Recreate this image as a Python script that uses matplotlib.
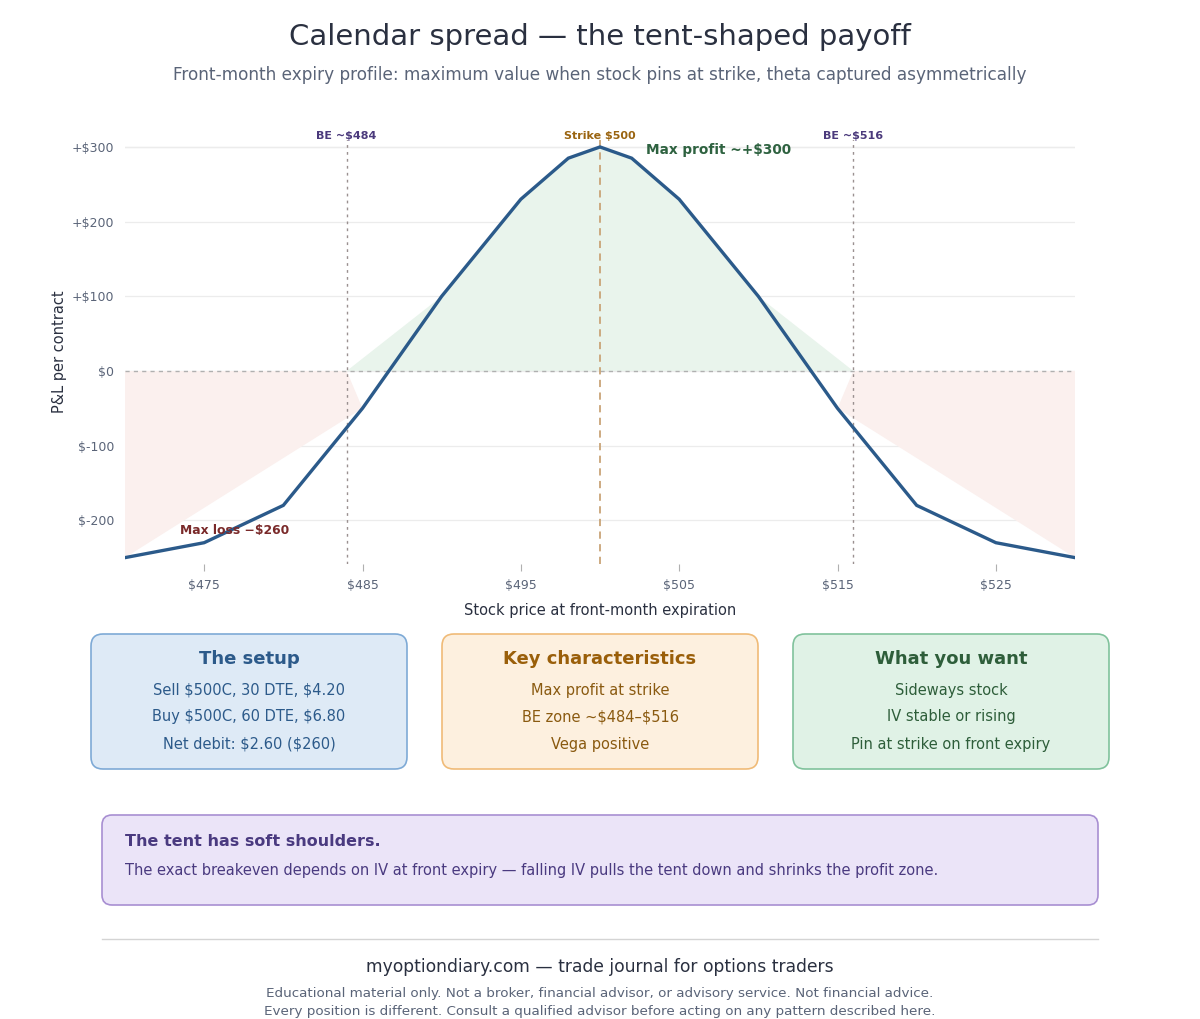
import matplotlib.pyplot as plt
from matplotlib.patches import FancyBboxPatch

# Front-month expiry P&L of the calendar spread
price = [470, 475, 480, 485, 490, 495, 498, 500, 502, 505, 510, 515, 520, 525, 530]
pnl = [-250, -230, -180, -50, 100, 230, 285, 300, 285, 230, 100, -50, -180, -230, -250]

strike = 500
be_low, be_high = 484, 516

# shaded zones (polygon outlines)
loss_left_x = [470, 484, 485, 470]
loss_left_y = [0, 0, -50, -250]
loss_right_x = [516, 530, 530, 515]
loss_right_y = [0, 0, -250, -50]

yticks = [-200, -100, 0, 100, 200, 300]
ytick_labels = ['$-200', '$-100', '$0', '+$100', '+$200', '+$300']
xticks = [475, 485, 495, 505, 515, 525]
xtick_labels = ['$475', '$485', '$495', '$505', '$515', '$525']

cards = [
    ('The setup', ['Sell $500C, 30 DTE, $4.20', 'Buy $500C, 60 DTE, $6.80', 'Net debit: $2.60 ($260)'],
     '#deeaf6', '#7eaad6', '#2c5a8a', '#2c5a8a'),
    ('Key characteristics', ['Max profit at strike', 'BE zone ~$484\u2013$516', 'Vega positive'],
     '#fdf0df', '#f0bb78', '#9a5f0a', '#8a5a10'),
    ('What you want', ['Sideways stock', 'IV stable or rising', 'Pin at strike on front expiry'],
     '#e0f2e6', '#80c29c', '#2e5e3a', '#2e5e3a'),
]

plt.rcParams['font.family'] = ['DejaVu Sans']
plt.rcParams['text.parse_math'] = False

fig = plt.figure(figsize=(12, 10.19), dpi=100)

# main chart
ax = fig.add_axes([125 / 1200, 1 - 563.6 / 1019, 950 / 1200, (563.6 - 139.5) / 1019])
ax.set_xlim(470, 530)
ax.set_ylim(-258, 310)

# profit zone: positive part of the curve, closed on zero at the breakevens
prof_x = [be_low] + [p for p, v in zip(price, pnl) if v > 0] + [be_high]
prof_y = [0] + [v for v in pnl if v > 0] + [0]
ax.fill(prof_x, prof_y, color='#e9f4ec', lw=0, zorder=1)
ax.fill(loss_left_x, loss_left_y, color='#fbf0ee', lw=0, zorder=1)
ax.fill(loss_right_x, loss_right_y, color='#fbf0ee', lw=0, zorder=1)

for v in yticks + [300]:
    ax.axhline(v, color='#ececec', lw=0.9, zorder=0)
ax.axhline(0, color='#b0b0b0', lw=1, ls=(0, (3, 3)), zorder=2)

ax.axvline(be_low, color='#9a9090', lw=1, ls=(0, (2, 3)), zorder=2)
ax.axvline(be_high, color='#9a9090', lw=1, ls=(0, (2, 3)), zorder=2)
ax.axvline(strike, color='#c9a477', lw=1.3, ls=(0, (4, 3)), zorder=2)

ax.plot(price, pnl, color='#2b5a8a', lw=2.4, zorder=4, solid_joinstyle='miter')

ax.text(be_low, 315, 'BE ~$484', ha='center', va='center', fontsize=8, fontweight='bold',
        color='#4b3a7c', clip_on=False)
ax.text(be_high, 315, 'BE ~$516', ha='center', va='center', fontsize=8, fontweight='bold',
        color='#4b3a7c', clip_on=False)
ax.text(strike, 315, 'Strike $500', ha='center', va='center', fontsize=8, fontweight='bold',
        color='#9a6410', clip_on=False)
ax.text(502.9, 296, 'Max profit ~+$300', ha='left', va='center', fontsize=9.8, fontweight='bold',
        color='#2e6240', zorder=5)
ax.text(476.9, -214, 'Max loss \u2212$260', ha='center', va='center', fontsize=8.9, fontweight='bold',
        color='#7a2a2a', zorder=5)

ax.set_yticks(yticks)
ax.set_yticklabels(ytick_labels)
ax.set_xticks(xticks)
ax.set_xticklabels(xtick_labels)
ax.tick_params(axis='y', length=0, pad=8, labelsize=9, labelcolor='#5a6478')
ax.tick_params(axis='x', length=5, width=0.8, color='#b0b0b0', pad=6, labelsize=9, labelcolor='#5a6478')
for s in ax.spines.values():
    s.set_visible(False)
ax.set_xlabel('Stock price at front-month expiration', fontsize=10.5, color='#2a3040', labelpad=8)
ax.set_ylabel('P&L per contract', fontsize=10.5, color='#2a3040', labelpad=3)

# overlay in pixel coordinates for titles, cards and footer
ov = fig.add_axes([0, 0, 1, 1], zorder=-1)
ov.set_xlim(0, 1200)
ov.set_ylim(1019, 0)
ov.axis('off')

ov.text(600, 37, 'Calendar spread \u2014 the tent-shaped payoff', ha='center', va='center',
        fontsize=21, color='#2a3040')
ov.text(600, 75, 'Front-month expiry profile: maximum value when stock pins at strike, theta captured asymmetrically',
        ha='center', va='center', fontsize=12.2, color='#5a6478')

card_x = [91, 442, 793]
for (title, lines, face, edge, tcol, lcol), x0 in zip(cards, card_x):
    ov.add_patch(FancyBboxPatch((x0, 634), 316, 135, boxstyle='round,pad=0,rounding_size=12',
                                fc=face, ec=edge, lw=1.2))
    cx = x0 + 158
    ov.text(cx, 659, title, ha='center', va='center', fontsize=13, fontweight='bold', color=tcol)
    for i, line in enumerate(lines):
        ov.text(cx, 690 + 27 * i, line, ha='center', va='center', fontsize=10.5, color=lcol)

ov.add_patch(FancyBboxPatch((102, 815), 996, 90, boxstyle='round,pad=0,rounding_size=10',
                            fc='#ebe4f8', ec='#a88fd2', lw=1.2))
ov.text(125, 841, 'The tent has soft shoulders.', ha='left', va='center', fontsize=11.5,
        fontweight='bold', color='#4a3a80')
ov.text(125, 871, 'The exact breakeven depends on IV at front expiry \u2014 falling IV pulls the tent down and shrinks the profit zone.',
        ha='left', va='center', fontsize=10.5, color='#4a3a80')

ov.plot([102, 1098], [939, 939], color='#d4d4d4', lw=1)
ov.text(600, 967, 'myoptiondiary.com \u2014 trade journal for options traders', ha='center', va='center',
        fontsize=12.3, color='#2a3040')
ov.text(600, 993, 'Educational material only. Not a broker, financial advisor, or advisory service. Not financial advice.',
        ha='center', va='center', fontsize=9.7, color='#5a6478')
ov.text(600, 1012, 'Every position is different. Consult a qualified advisor before acting on any pattern described here.',
        ha='center', va='center', fontsize=9.7, color='#5a6478')

fig.savefig('out.png', dpi=100, facecolor='white')
